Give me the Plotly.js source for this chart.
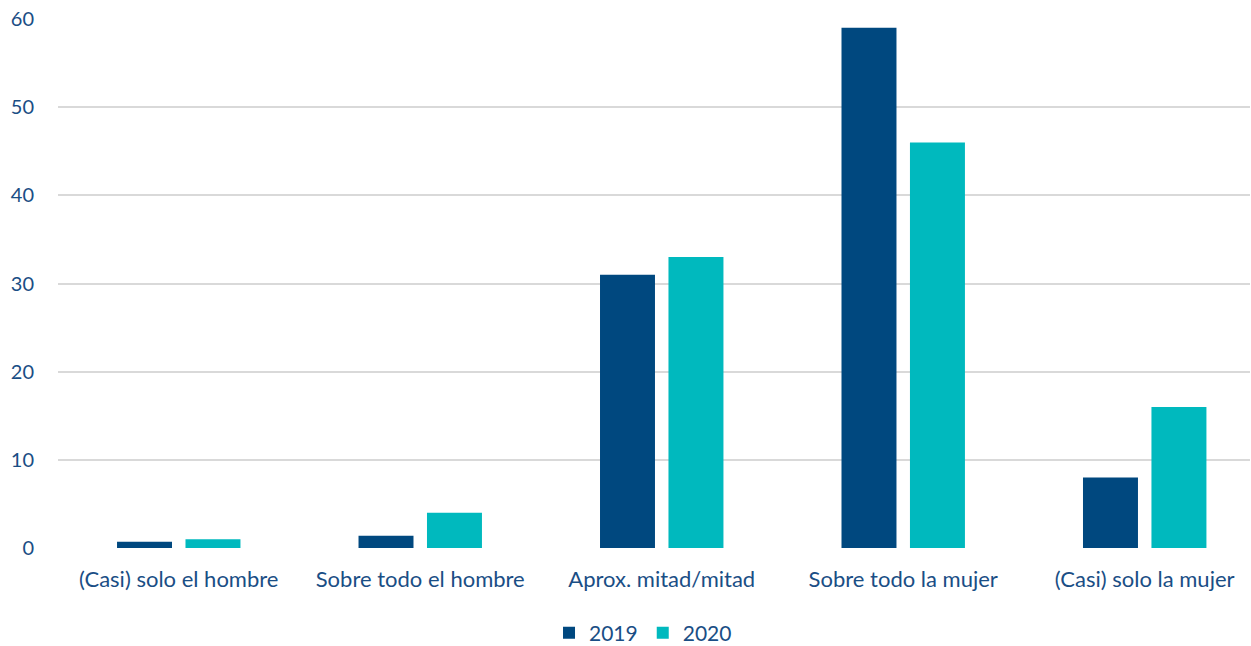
<!DOCTYPE html>
<html>
<head>
<meta charset="utf-8">
<script src="https://cdn.plot.ly/plotly-3.0.1.min.js"></script>
<style>html,body{margin:0;padding:0;background:#fff;}#chart{width:1251px;height:646px;}</style>
</head>
<body>
<div id="chart"></div>
<script>
const categories = ["(Casi) solo el hombre", "Sobre todo el hombre", "Aprox. mitad/mitad", "Sobre todo la mujer", "(Casi) solo la mujer"];
const values2019 = [0.7, 1.4, 31, 59, 8];
const values2020 = [1.0, 4.0, 33, 46, 16];
const seriesNames = ["2019", "2020"];
const yTicks = [0, 10, 20, 30, 40, 50, 60];

const textColor = "#1a4e85";
const traces = [
  {type: "bar", name: seriesNames[0], x: categories, y: values2019, marker: {color: "#00487f"}, hoverinfo: "x+y"},
  {type: "bar", name: seriesNames[1], x: categories, y: values2020, marker: {color: "#00b9be"}, hoverinfo: "x+y"}
];
const layout = {
  width: 1251, height: 646,
  margin: {l: 58, r: 1, t: 19, b: 98},
  paper_bgcolor: "#ffffff", plot_bgcolor: "#ffffff",
  font: {family: "Lato, 'Open Sans', sans-serif", size: 21, color: textColor},
  barmode: "group", bargap: 0.433, bargroupgap: 0.197,
  xaxis: {range: [-0.5, 4.436], showgrid: false, zeroline: false, showline: false, ticks: "", tickfont: {size: 22, color: textColor}, ticklabelstandoff: 16},
  yaxis: {range: [0, 60], tickvals: yTicks, showgrid: true, gridcolor: "#d9d9d9", gridwidth: 2, zeroline: false, showline: false, ticks: "", tickfont: {size: 20, color: textColor}, ticklabelstandoff: 23},
  showlegend: true,
  legend: {orientation: "h", x: 0.514, xanchor: "center", xref: "container", y: 0.02, yanchor: "middle", yref: "container", font: {size: 21, color: textColor}, itemwidth: 30, traceorder: "normal"}
};
Plotly.newPlot("chart", traces, layout, {displayModeBar: false, staticPlot: true});
</script>
</body>
</html>
